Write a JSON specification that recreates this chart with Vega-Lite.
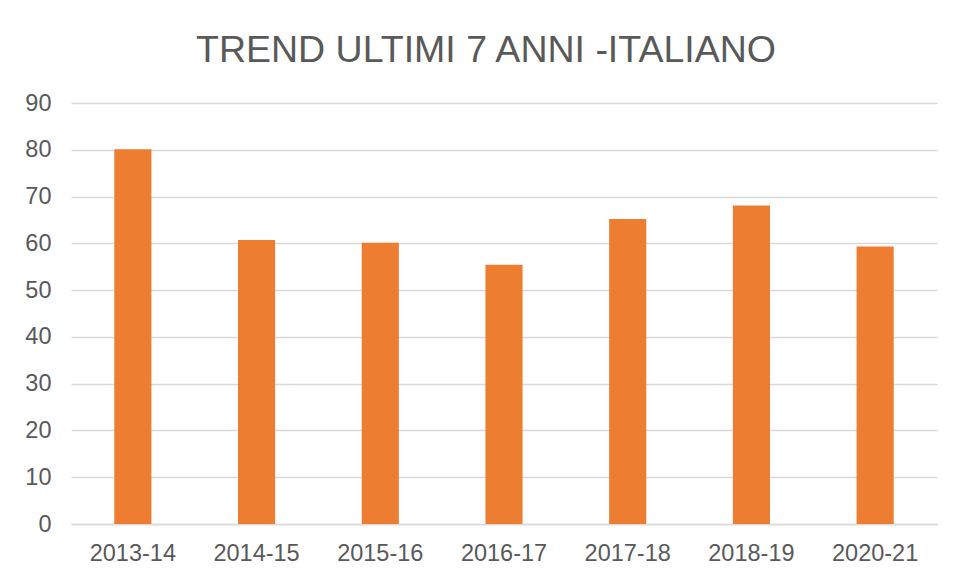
{
  "$schema": "https://vega.github.io/schema/vega-lite/v6.json",
  "autosize": {"type": "none"},
  "width": 866,
  "height": 421,
  "padding": {"left": 71, "top": 103, "right": 24, "bottom": 54},
  "background": "white",
  "title": {
    "text": "TREND ULTIMI 7 ANNI -ITALIANO",
    "font": "Liberation Sans",
    "fontSize": 37.5,
    "fontWeight": "normal",
    "color": "#595959",
    "anchor": "middle",
    "frame": "group",
    "baseline": "alphabetic",
    "offset": -8,
    "dx": -18
  },
  "data": {
    "values": [
      {"anno": "2013-14", "valore": 80.1},
      {"anno": "2014-15", "valore": 60.7},
      {"anno": "2015-16", "valore": 60.1},
      {"anno": "2016-17", "valore": 55.4},
      {"anno": "2017-18", "valore": 65.2},
      {"anno": "2018-19", "valore": 68.1},
      {"anno": "2020-21", "valore": 59.3}
    ]
  },
  "mark": {"type": "bar", "color": "#ED7D31"},
  "encoding": {
    "x": {
      "field": "anno",
      "type": "nominal",
      "sort": null,
      "scale": {"paddingInner": 0.7, "paddingOuter": 0.35},
      "axis": {
        "title": null,
        "labelAngle": 0,
        "labelFont": "Liberation Sans",
        "labelFontSize": 23.5,
        "labelColor": "#595959",
        "labelPadding": 17,
        "ticks": false,
        "domainColor": "#D9D9D9",
        "domainWidth": 1.5,
        "grid": false
      }
    },
    "y": {
      "field": "valore",
      "type": "quantitative",
      "scale": {"domain": [0, 90], "nice": false},
      "axis": {
        "title": null,
        "values": [0, 10, 20, 30, 40, 50, 60, 70, 80, 90],
        "labelFont": "Liberation Sans",
        "labelFontSize": 23.5,
        "labelColor": "#595959",
        "labelPadding": 20,
        "ticks": false,
        "domain": false,
        "grid": true,
        "gridColor": "#D9D9D9",
        "gridWidth": 1.5
      }
    }
  },
  "config": {"view": {"stroke": null}}
}
